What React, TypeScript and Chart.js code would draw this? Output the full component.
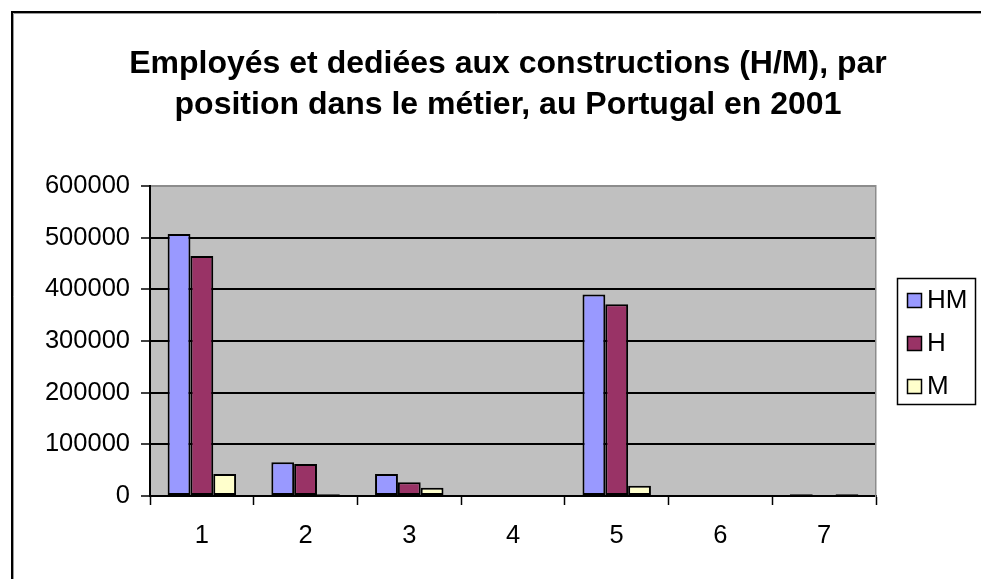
import React, { useEffect, useRef } from "react";
import { Chart, registerables } from "chart.js";

Chart.register(...registerables);

const categories = ["1", "2", "3", "4", "5", "6", "7"];
const seriesHM = [507000, 65500, 42500, 0, 390000, 0, 3500];
const seriesH = [464500, 62000, 26500, 0, 371000, 0, 0];
const seriesM = [42500, 3500, 16000, 0, 20000, 0, 3500];
const titleLines = [
  "Employés et dediées aux constructions (H/M), par",
  "position dans le métier, au Portugal en 2001",
];
const yMax = 600000;
const yStep = 100000;

const FONT = "'Liberation Sans', Arial, Helvetica, sans-serif";

const framePlugin = {
  id: "frameAndPlot",
  beforeDraw(chart: any) {
    const { ctx, width, height, chartArea } = chart;
    ctx.save();
    ctx.fillStyle = "#ffffff";
    ctx.fillRect(0, 0, width, height);
    // outer frame
    ctx.strokeStyle = "#000000";
    ctx.lineWidth = 2;
    ctx.beginPath();
    ctx.moveTo(width + 5, 12);
    ctx.lineTo(12, 12);
    ctx.lineTo(12, height + 5);
    ctx.stroke();
    ctx.strokeStyle = "#9a9a9a";
    ctx.lineWidth = 1;
    ctx.beginPath();
    ctx.moveTo(width + 5, 13.5);
    ctx.lineTo(13.5, 13.5);
    ctx.lineTo(13.5, height + 5);
    ctx.stroke();
    // plot background
    ctx.fillStyle = "#c0c0c0";
    ctx.fillRect(
      chartArea.left,
      chartArea.top,
      chartArea.right - chartArea.left,
      chartArea.bottom - chartArea.top
    );
    ctx.restore();
  },
};

const boxLegendPlugin = {
  id: "boxLegend",
  afterDraw(chart: any) {
    const { ctx, chartArea } = chart;
    const left = chartArea.right + 21;
    const top = chartArea.top + 92;
    ctx.save();
    ctx.strokeStyle = "#000000";
    ctx.lineWidth = 1.5;
    ctx.strokeRect(left + 0.5, top + 0.5, 78, 126);
    ctx.font = `26px ${FONT}`;
    ctx.textBaseline = "middle";
    ctx.textAlign = "left";
    chart.data.datasets.forEach((ds: any, i: number) => {
      const y = top + 15 + i * 43;
      const x = left + 10;
      ctx.fillStyle = ds.backgroundColor;
      ctx.fillRect(x, y, 15, 15);
      ctx.lineWidth = 1.5;
      ctx.strokeStyle = "#000000";
      ctx.strokeRect(x + 0.5, y + 0.5, 14, 14);
      ctx.fillStyle = "#000000";
      ctx.fillText(ds.label, x + 20, y + 8);
    });
    ctx.restore();
  },
};

export default function App() {
  const canvasRef = useRef<HTMLCanvasElement | null>(null);

  useEffect(() => {
    if (!canvasRef.current) return;
    Chart.defaults.font.family = FONT;
    Chart.defaults.color = "#000000";
    const border = { borderColor: "#000000", borderWidth: 2, borderSkipped: false };
    const chart = new Chart(canvasRef.current, {
      type: "bar",
      data: {
        labels: categories,
        datasets: [
          { label: "HM", data: seriesHM, backgroundColor: "#9999ff", ...border },
          { label: "H", data: seriesH, backgroundColor: "#993366", ...border },
          { label: "M", data: seriesM, backgroundColor: "#ffffcc", ...border },
        ],
      },
      options: {
        animation: false,
        responsive: true,
        maintainAspectRatio: false,
        layout: { padding: { left: 35, right: 0, top: 12, bottom: 0 } },
        datasets: {
          bar: { categoryPercentage: 0.66, barPercentage: 1.0 },
        },
        plugins: {
          legend: { display: false },
          tooltip: { enabled: false },
          title: {
            display: true,
            text: titleLines,
            color: "#000000",
            font: { family: FONT, size: 32, weight: "bold", lineHeight: "41px" },
            padding: { top: 32, bottom: 60 },
          },
        },
        scales: {
          x: {
            type: "category",
            position: "bottom",
            offset: true,
            grid: {
              display: true,
              drawOnChartArea: false,
              drawTicks: true,
              tickLength: 9,
              offset: true,
              tickColor: "#000000",
              tickWidth: 1.5,
              color: "#000000",
            },
            border: { display: true, color: "#000000", width: 2 },
            ticks: {
              color: "#000000",
              font: { family: FONT, size: 25.5 },
              padding: 16,
              maxRotation: 0,
              autoSkip: false,
            },
            afterFit(scale: any) {
              scale.height = 83;
            },
          },
          y: {
            type: "linear",
            position: "left",
            min: 0,
            max: yMax,
            grid: {
              display: true,
              drawOnChartArea: true,
              drawTicks: true,
              tickLength: 9,
              lineWidth: 2,
              tickWidth: 1.5,
              tickColor: "#000000",
              color: (c: any) =>
                c.tick && c.tick.value === yMax ? "#8c8c8c" : "#000000",
            },
            border: { display: true, color: "#000000", width: 2 },
            ticks: {
              stepSize: yStep,
              color: "#000000",
              font: { family: FONT, size: 25.5 },
              padding: 11,
              callback: (v: any) => String(v),
            },
            afterFit(scale: any) {
              scale.width = 115;
            },
          },
          yRightSpace: {
            type: "linear",
            position: "right",
            display: true,
            grid: { display: false, drawTicks: false },
            ticks: { display: false },
            border: { display: true, color: "#8c8c8c", width: 1.5 },
            afterFit(scale: any) {
              scale.width = 105;
            },
          },
        },
      } as any,
      plugins: [framePlugin, boxLegendPlugin],
    });
    return () => chart.destroy();
  }, []);

  return (
    <div
      style={{
        position: "fixed",
        left: 0,
        top: 0,
        width: "981px",
        height: "579px",
        background: "#ffffff",
      }}
    >
      <canvas ref={canvasRef} />
    </div>
  );
}
